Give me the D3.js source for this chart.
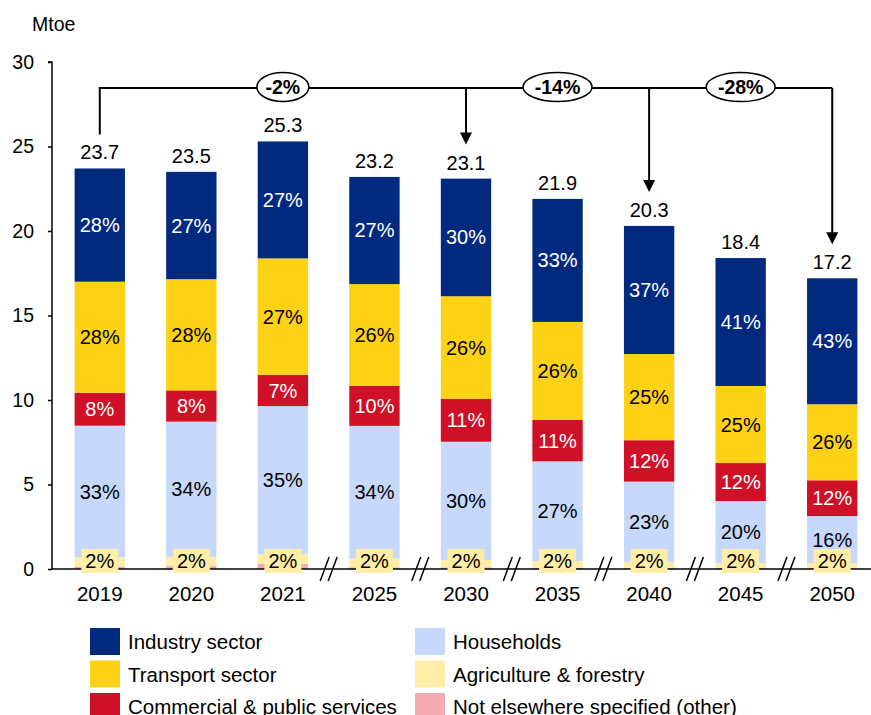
<!DOCTYPE html>
<html>
<head>
<meta charset="utf-8">
<script src="https://cdn.jsdelivr.net/npm/d3@7"></script>
<style>
  body { margin: 0; background: #fff; }
  svg { display: block; font-family: Arial, "Liberation Sans", sans-serif; }
</style>
</head>
<body>
<svg width="871" height="715"></svg>
<script>
// data (Mtoe)
const years = ["2019", "2020", "2021", "2025", "2030", "2035", "2040", "2045", "2050"];
const industry    = [6.70, 6.35, 6.92, 6.34, 6.96, 7.28, 7.58, 7.57, 7.45];
const transport   = [6.57, 6.58, 6.90, 6.01, 6.08, 5.80, 5.10, 4.56, 4.50];
const commercial  = [1.95, 1.85, 1.84, 2.38, 2.53, 2.45, 2.45, 2.25, 2.12];
const households  = [7.79, 8.00, 8.77, 7.86, 7.00, 5.90, 4.75, 3.68, 2.80];
const agriculture = [0.55, 0.55, 0.57, 0.51, 0.43, 0.39, 0.37, 0.29, 0.28];
const other       = [0.14, 0.17, 0.30, 0.10, 0.10, 0.08, 0.05, 0.05, 0.05];
const yTicks = [0, 5, 10, 15, 20, 25, 30];

// change annotations: base year -> target year
const changeBase = "2019";
const changeTargets = ["2030", "2040", "2050"];
const changeLabels = ["-2%", "-14%", "-28%"];
const changeLabelAt = ["2021", "2035", "2045"];

// years after which an axis break is drawn
const breakBefore = ["2025", "2030", "2035", "2040", "2045", "2050"];

const series = [
  { key: "other", name: "Not elsewhere specified (other)", values: other, color: "#F4A8B0", text: null },
  { key: "agri", name: "Agriculture & forestry", values: agriculture, color: "#FFEDA8", text: "#000" },
  { key: "hh", name: "Households", values: households, color: "#C6D9FC", text: "#000" },
  { key: "com", name: "Commercial & public services", values: commercial, color: "#CE1126", text: "#fff" },
  { key: "tr", name: "Transport sector", values: transport, color: "#FCD116", text: "#000" },
  { key: "ind", name: "Industry sector", values: industry, color: "#012A7E", text: "#fff" }
];

const svg = d3.select("svg");
const margin = { left: 52, top: 62, bottom: 569 };

const x = d3.scaleBand().domain(years).range([54, 878]).paddingInner(0.45).paddingOuter(0.225);
const y = d3.scaleLinear().domain([0, 30]).range([margin.bottom, margin.top]);

// stack
const rows = years.map((yr, i) => {
  const r = { year: yr };
  series.forEach(s => r[s.key] = s.values[i]);
  return r;
});
const stacked = d3.stack().keys(series.map(s => s.key))(rows);
const totals = rows.map(r => d3.sum(series, s => r[s.key]));

// bars
const layers = svg.append("g").selectAll("g")
  .data(stacked)
  .join("g")
  .attr("fill", (d, i) => series[i].color);

layers.selectAll("rect")
  .data(d => d)
  .join("rect")
  .attr("x", d => x(d.data.year))
  .attr("width", x.bandwidth())
  .attr("y", d => y(d[1]))
  .attr("height", d => y(d[0]) - y(d[1]));

// y axis
const yAxis = svg.append("g")
  .attr("transform", `translate(${margin.left},0)`)
  .call(d3.axisLeft(y).tickValues(yTicks).tickSize(4).tickPadding(14));
yAxis.select(".domain").attr("stroke", "#000").attr("stroke-width", 1.5).attr("d", `M-4,${y(30)}H0V${y(0)}`);
yAxis.selectAll(".tick line").attr("stroke", "#000").attr("stroke-width", 1.5);
yAxis.selectAll(".tick text").attr("font-size", 19.5).attr("fill", "#000").attr("font-family", "Arial, 'Liberation Sans', sans-serif");

svg.append("text").attr("x", 32).attr("y", 31).attr("font-size", 19.5).text("Mtoe");

// x axis line
svg.append("line")
  .attr("x1", margin.left).attr("x2", 871)
  .attr("y1", y(0)).attr("y2", y(0))
  .attr("stroke", "#000").attr("stroke-width", 1.5);

// axis breaks
breakBefore.forEach(yr => {
  const i = years.indexOf(yr);
  const cx = (x(years[i - 1]) + x.bandwidth() + x(yr)) / 2;
  [-4, 4].forEach(off => {
    svg.append("line")
      .attr("x1", cx + off - 4.5).attr("y1", y(0) + 12)
      .attr("x2", cx + off + 4.5).attr("y2", y(0) - 12)
      .attr("stroke", "#000").attr("stroke-width", 1.5);
  });
});

// x labels
svg.append("g").selectAll("text")
  .data(years)
  .join("text")
  .attr("x", d => x(d) + x.bandwidth() / 2)
  .attr("y", 601)
  .attr("text-anchor", "middle")
  .attr("font-size", 20.5)
  .text(d => d);

// segment percentage labels
series.forEach((s, si) => {
  if (!s.text) return;
  stacked[si].forEach((d, i) => {
    const cx = x(d.data.year) + x.bandwidth() / 2;
    const pct = Math.round(s.values[i] / totals[i] * 100) + "%";
    if (s.key === "agri") {
      const cy = y(0) - 8;
      svg.append("rect")
        .attr("x", cx - 18.5).attr("y", cy - 12)
        .attr("width", 37).attr("height", 24)
        .attr("fill", s.color);
      svg.append("text")
        .attr("x", cx).attr("y", cy + 7)
        .attr("text-anchor", "middle").attr("font-size", 20)
        .attr("fill", s.text).text(pct);
    } else {
      const cy = (y(d[0]) + y(d[1])) / 2;
      svg.append("text")
        .attr("x", cx).attr("y", cy + 7)
        .attr("text-anchor", "middle").attr("font-size", 20)
        .attr("fill", s.text).text(pct);
    }
  });
});

// totals
svg.append("g").selectAll("text")
  .data(years)
  .join("text")
  .attr("x", d => x(d) + x.bandwidth() / 2)
  .attr("y", (d, i) => y(totals[i]) - 9)
  .attr("text-anchor", "middle")
  .attr("font-size", 20)
  .text((d, i) => totals[i].toFixed(1));

// change annotation
const lineY = 88;
const mid = yr => x(yr) + x.bandwidth() / 2;
const topOf = yr => y(totals[years.indexOf(yr)]) - 34;
const ann = svg.append("g").attr("stroke", "#000").attr("stroke-width", 2).attr("fill", "none");
ann.append("path")
  .attr("d", `M${mid(changeBase)},${topOf(changeBase)}V${lineY}H${mid(changeTargets[changeTargets.length - 1])}`);
changeTargets.forEach(t => {
  const tx = mid(t), ty = topOf(t);
  ann.append("line").attr("x1", tx).attr("x2", tx).attr("y1", lineY).attr("y2", ty - 11);
  svg.append("path")
    .attr("d", `M${tx - 6},${ty - 12}L${tx + 6},${ty - 12}L${tx},${ty}Z`)
    .attr("fill", "#000");
});
changeLabels.forEach((lab, i) => {
  const cx = mid(changeLabelAt[i]);
  const rx = lab.length > 3 ? 34.5 : 26;
  svg.append("ellipse")
    .attr("cx", cx).attr("cy", lineY - 1)
    .attr("rx", rx).attr("ry", 14.5)
    .attr("fill", "#fff").attr("stroke", "#000").attr("stroke-width", 1.5);
  svg.append("text")
    .attr("x", cx).attr("y", lineY + 6)
    .attr("text-anchor", "middle").attr("font-size", 19.5).attr("font-weight", "bold")
    .text(lab);
});

// legend
const legendOrder = ["ind", "tr", "com", "hh", "agri", "other"];
const legend = svg.append("g").selectAll("g")
  .data(legendOrder.map(k => series.find(s => s.key === k)))
  .join("g")
  .attr("transform", (d, i) => `translate(${i < 3 ? 90 : 415},${628 + (i % 3) * 32.5})`);
legend.append("rect").attr("width", 30).attr("height", 27).attr("fill", d => d.color);
legend.append("text").attr("x", 38).attr("y", 21).attr("font-size", 20.5).text(d => d.name);
</script>
</body>
</html>
